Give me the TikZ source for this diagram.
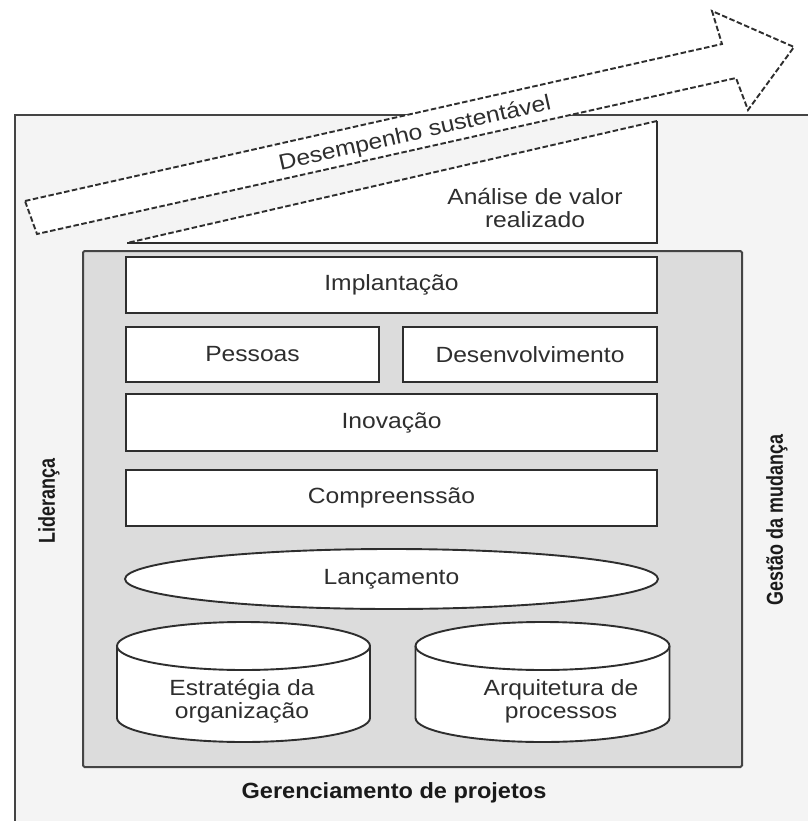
\documentclass[tikz,border=0pt]{standalone}
\usepackage{fontspec}
\setmainfont{Liberation Sans}
\newfontfamily\txtfont{Liberation Sans}[FakeStretch=1.12]
\newfontfamily\sidelblfont{Liberation Sans}[FakeStretch=0.78]
\newfontfamily\baselblfont{Liberation Sans}[FakeStretch=1.07]
\usetikzlibrary{shapes.geometric}

\definecolor{ink}{HTML}{2E2E2E}
\definecolor{darkink}{HTML}{1A1A1A}
\definecolor{framebg}{HTML}{F4F4F4}
\definecolor{panelbg}{HTML}{DCDCDC}
\definecolor{edge}{HTML}{444444}

\tikzset{
  txt/.style={text=ink, font=\txtfont\fontsize{22}{23}\selectfont, inner sep=0pt},
  stagebox/.style={txt, draw=ink, line width=1.9pt, fill=white},
  launchshape/.style={txt, ellipse, draw=ink, line width=1.9pt, fill=white},
  dashedge/.style={draw=ink, line width=1.9pt, dash pattern=on 5.5pt off 2.5pt},
  drumline/.style={draw=ink, line width=1.9pt},
  sidelbl/.style={text=darkink, font=\sidelblfont\bfseries\fontsize{23}{24}\selectfont, inner sep=0pt},
  baselbl/.style={text=darkink, font=\baselblfont\bfseries\fontsize{22}{24}\selectfont, inner sep=0pt},
}

\begin{document}
\begin{tikzpicture}[x=1pt, y=-1pt]
\useasboundingbox (0,0) rectangle (807,821);

% outer frame, open towards the right and the bottom
\fill[framebg] (15,115) rectangle (815,830);
\draw[edge, line width=1.9pt] (15,830) -- (15,115) -- (815,115);

% realised-value wedge
\fill[white] (127,243) -- (657,243) -- (657,121) -- cycle;
\draw[ink, line width=1.9pt] (127,243) -- (657,243) -- (657,121);
\path[dashedge] (657,121) -- (127,243);
\node[txt, align=center] (value) at (535,208) {Análise de valor\\realizado};

% sustained-performance arrow
\path[dashedge, fill=white] (25,201) -- (722,44) -- (712,11) -- (794,47)
  -- (748,110) -- (736,78) -- (37,234) -- cycle;
\node[txt, rotate=12.7] (perf) at (415,134) {Desempenho sustentável};

% inner panel
\draw[edge, line width=2pt, fill=panelbg, rounded corners=1.5pt] (83,251) rectangle (742,767);

% stages
\node[stagebox, minimum width=531pt, minimum height=56pt] (deploy) at (391.5,285) {Implantação};
\node[stagebox, minimum width=253pt, minimum height=55pt] (people) at (252.5,354.5) {Pessoas};
\node[stagebox, minimum width=254pt, minimum height=55pt] (develop) at (530,354.5) {Desenvolvimento};
\node[stagebox, minimum width=531pt, minimum height=57pt] (innov) at (391.5,422.5) {Inovação};
\node[stagebox, minimum width=531pt, minimum height=56pt] (underst) at (391.5,498) {Compreenssão};
\node[launchshape, minimum width=533pt, minimum height=60pt] (launch) at (391.5,579) {Lançamento};

% base drums
\path[fill=white] (117,646) -- (117,718) arc[start angle=180, end angle=0, x radius=126.5, y radius=24]
  -- (370,646) arc[start angle=0, end angle=-180, x radius=126.5, y radius=24] -- cycle;
\path[drumline] (243.5,646) ellipse[x radius=126.5, y radius=24];
\path[drumline] (117,646) -- (117,718) arc[start angle=180, end angle=0, x radius=126.5, y radius=24] -- (370,646);
\node[txt, align=center] (strategy) at (242,701) {Estratégia da\\organização};

\path[fill=white] (415.5,646) -- (415.5,718) arc[start angle=180, end angle=0, x radius=127, y radius=24]
  -- (669.5,646) arc[start angle=0, end angle=-180, x radius=127, y radius=24] -- cycle;
\path[drumline] (542.5,646) ellipse[x radius=127, y radius=24];
\path[drumline] (415.5,646) -- (415.5,718) arc[start angle=180, end angle=0, x radius=127, y radius=24] -- (669.5,646);
\node[txt, align=center] (process) at (561,701) {Arquitetura de\\processos};

% frame labels
\node[sidelbl, rotate=90] (lead) at (49,501) {Liderança};
\node[sidelbl, rotate=90] (change) at (777,520) {Gestão da mudança};
\node[baselbl] (pm) at (394,793) {Gerenciamento de projetos};
\end{tikzpicture}
\end{document}
